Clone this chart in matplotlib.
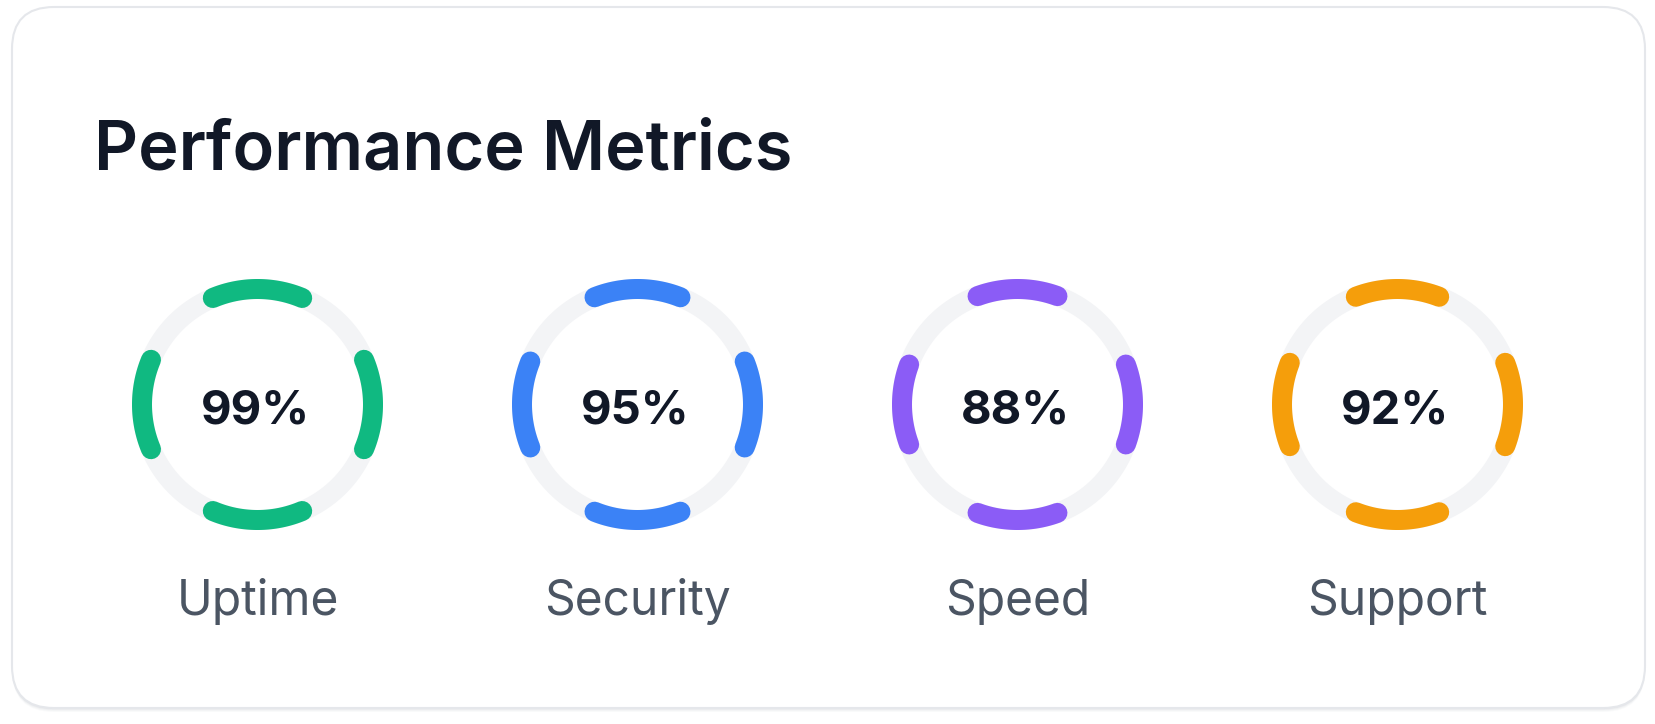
import numpy as np
import matplotlib
matplotlib.use("Agg")
import matplotlib.pyplot as plt
from matplotlib.patches import FancyBboxPatch

# ---- data ----
title = "Performance Metrics"
labels = ["Uptime", "Security", "Speed", "Support"]
values = [99, 95, 88, 92]
colors = ["#10b981", "#3b82f6", "#8b5cf6", "#f59e0b"]

W, H = 1656, 724
fig = plt.figure(figsize=(W / 100, H / 100), dpi=100)
fig.patch.set_facecolor("white")
ax = fig.add_axes([0, 0, 1, 1])
ax.set_xlim(0, W)
ax.set_ylim(H, 0)
ax.axis("off")

PX = 0.72  # points per pixel at dpi 100

# card shadow
for i, (off, a) in enumerate([(4, 0.05), (3, 0.06), (2, 0.08), (1, 0.10)]):
    sh = FancyBboxPatch((12, 7 + off), 1633, 701, boxstyle="round,pad=0,rounding_size=42",
                        facecolor="#9ca3af", edgecolor="none", alpha=a, zorder=1)
    ax.add_patch(sh)
card = FancyBboxPatch((12, 7), 1633, 701, boxstyle="round,pad=0,rounding_size=42",
                      facecolor="white", edgecolor="#e5e7eb", linewidth=1.5, zorder=2)
ax.add_patch(card)

ax.text(94, 170, title, fontsize=49.3, fontweight="semibold", family="Inter",
        color="#111827", ha="left", va="baseline", zorder=5)

cx0, spacing, cy = 257.5, 380, 404.5
r = 115.5
stroke = 20

t = np.linspace(0, 2 * np.pi, 400)
for i, (lab, v, c) in enumerate(zip(labels, values, colors)):
    cx = cx0 + i * spacing
    ax.plot(cx + r * np.cos(t), cy - r * np.sin(t), color="#f3f4f6",
            linewidth=stroke * PX, solid_capstyle="butt", zorder=3)
    half = np.deg2rad(0.23 * v)
    for center in [90, 0, 270, 180]:
        cc = np.deg2rad(center)
        a = np.linspace(cc - half, cc + half, 80)
        ax.plot(cx + r * np.cos(a), cy - r * np.sin(a), color=c,
                linewidth=stroke * PX, solid_capstyle="round", zorder=4)
    ax.text(cx - 2, 424, f"{v}%", fontsize=34, fontweight="bold", family="Inter",
            color="#111827", ha="center", va="baseline", zorder=5)
    ax.text(cx, 615, lab, fontsize=34.5, family="Inter", color="#4b5563",
            ha="center", va="baseline", zorder=5)

fig.savefig("out.png", dpi=100, facecolor="white")
